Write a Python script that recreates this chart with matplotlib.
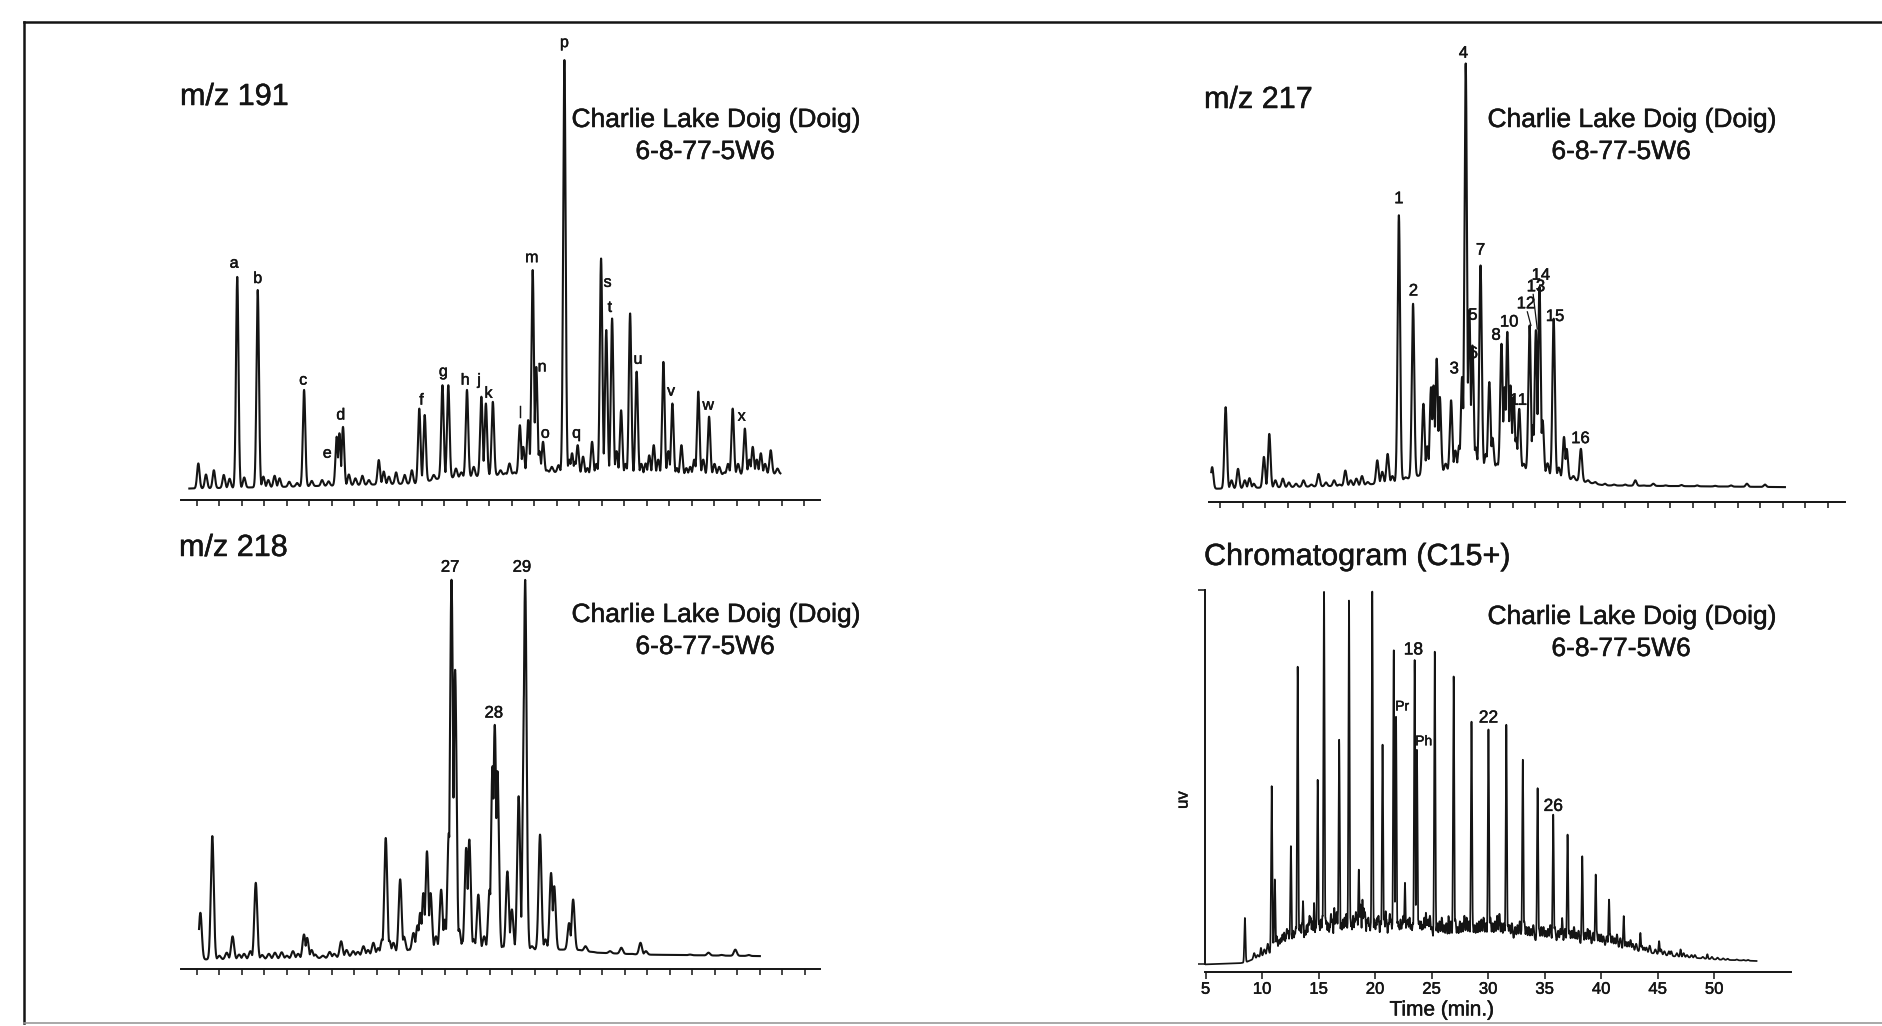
import numpy as np
import matplotlib
matplotlib.use("Agg")
import matplotlib.pyplot as plt
import matplotlib.patheffects as pe
from matplotlib.lines import Line2D

plt.rcParams['font.family'] = ['Liberation Sans', 'DejaVu Sans']

W, H = 1882, 1026   # output size in pixels
INK = '#141414'
BOLDEN = [pe.withStroke(linewidth=0.35, foreground=INK)]   # scanned print looks a bit heavier

# ---------------- data ----------------
# m/z 191 : (retention, apex height) ; retention in tick units, height in % of peak p
peaks_191 = [(0.06, 5.1), (0.40, 2.5), (0.75, 3.5), (1.19, 2.4), (1.45, 1.5), (1.79, 49.0),
             (2.10, 1.8), (2.70, 45.9), (2.95, 2.0), (3.17, 1.2), (3.45, 2.2), (3.67, 1.6),
             (4.10, 0.8), (4.45, 0.5), (4.76, 22.4), (5.10, 1.0), (5.56, 1.2), (5.85, 0.9),
             (6.21, 11.4), (6.33, 12.2), (6.49, 13.7), (6.75, 2.5), (7.04, 1.6), (7.35, 2.2),
             (7.64, 1.2), (8.08, 5.9), (8.30, 3.2), (8.53, 2.0), (8.85, 3.0), (9.23, 2.4),
             (9.55, 3.5), (9.88, 18.0), (10.12, 16.5), (10.52, 2.4), (10.91, 23.5), (11.17, 23.5),
             (11.51, 3.9), (11.75, 3.0), (12.00, 22.4), (12.30, 4.3), (12.64, 20.8), (12.84, 19.2),
             (13.15, 19.6), (13.49, 3.5), (13.70, 2.8), (13.89, 5.1), (14.10, 3.0), (14.35, 14.1),
             (14.50, 9.0), (14.72, 15.3), (14.92, 50.6), (15.08, 27.8), (15.22, 8.0), (15.38, 10.2),
             (15.55, 3.5), (15.77, 4.3), (16.07, 4.7), (16.33, 100.0), (16.55, 6.0), (16.67, 7.5),
             (16.80, 5.5), (16.92, 9.4), (17.16, 6.7), (17.35, 4.0), (17.56, 10.2), (17.75, 5.0),
             (17.96, 53.3), (18.19, 36.5), (18.45, 39.2), (18.65, 8.0), (18.85, 17.6), (19.05, 5.0),
             (19.25, 40.4), (19.54, 26.7), (19.75, 5.0), (19.94, 5.1), (20.10, 7.0), (20.30, 9.4),
             (20.50, 6.0), (20.73, 29.0), (20.95, 8.0), (21.13, 19.2), (21.33, 4.0), (21.53, 9.4),
             (21.75, 4.0), (21.92, 4.3), (22.10, 6.0), (22.28, 22.0), (22.50, 6.0), (22.76, 16.1),
             (23.00, 5.0), (23.21, 4.3), (23.45, 3.0), (23.60, 5.0), (23.81, 18.0), (24.05, 5.0),
             (24.35, 13.3), (24.55, 6.0), (24.70, 9.0), (24.88, 6.0), (25.06, 7.5), (25.25, 5.0),
             (25.50, 8.2), (25.80, 3.9)]
base_191 = [(-0.34, -0.8), (3.87, -0.4), (9.82, 0.4), (10.8, 1.6), (15.77, 3.1), (17.76, 2.4),
            (21.7, 2.4), (25.93, 2.7)]
labels_191 = [('a', 1.65, 52.2), ('b', 2.70, 48.6), ('c', 4.72, 24.7), ('d', 6.39, 16.5),
              ('e', 5.79, 7.5), ('f', 9.98, 20.0), ('g', 10.95, 26.7), ('h', 11.92, 24.7),
              ('j', 12.54, 24.7), ('k', 12.96, 21.6), ('l', 14.38, 16.9), ('m', 14.88, 53.5),
              ('n', 15.34, 27.8), ('o', 15.48, 12.2), ('p', 16.33, 104.1), ('q', 16.87, 12.2),
              ('s', 18.25, 47.7), ('t', 18.35, 41.8), ('u', 19.60, 29.6), ('v', 21.07, 22.1),
              ('w', 22.72, 18.8), ('x', 24.21, 16.2)]

# m/z 217 : height in % of peak 4
peaks_217 = [(-0.36, 5.1), (0.24, 19.2), (0.50, 2.0), (0.79, 4.7), (1.09, 2.0), (1.30, 2.5),
             (1.49, 1.2), (1.94, 7.5), (2.18, 12.9), (2.45, 2.0), (2.78, 2.4), (3.05, 1.5),
             (3.37, 1.2), (3.70, 2.0), (4.05, 1.0), (4.37, 3.5), (4.70, 1.5), (5.06, 2.0),
             (5.30, 1.0), (5.56, 4.3), (5.80, 2.0), (6.05, 2.4), (6.30, 3.0), (6.55, 1.6),
             (6.98, 6.7), (7.20, 4.0), (7.44, 8.2), (7.65, 3.0), (7.94, 64.3), (8.23, 2.7),
             (8.57, 43.5), (8.83, 2.0), (9.03, 20.0), (9.20, 10.0), (9.37, 23.9), (9.48, 24.3),
             (9.62, 30.6), (9.76, 21.6), (10.02, 5.9), (10.26, 20.8), (10.45, 9.0), (10.62, 10.2),
             (10.75, 26.3), (10.91, 100.0), (11.07, 42.0), (11.21, 33.7), (11.35, 9.8), (11.57, 52.5),
             (11.81, 8.2), (11.96, 25.1), (12.10, 12.0), (12.30, 5.9), (12.50, 34.1), (12.64, 23.9),
             (12.76, 36.9), (12.90, 24.3), (13.04, 21.6), (13.15, 12.0), (13.29, 18.8), (13.49, 5.9),
             (13.75, 38.4), (13.90, 15.0), (14.03, 37.3), (14.19, 47.5), (14.33, 16.1), (14.55, 6.0),
             (14.82, 40.0), (15.05, 5.0), (15.28, 12.2), (15.40, 9.4), (15.70, 3.0), (16.03, 9.4),
             (16.35, 2.0), (16.67, 1.6), (17.10, 1.2), (17.50, 1.0), (18.00, 1.0), (18.45, 2.0),
             (18.80, 0.8), (19.25, 1.2), (19.80, 0.8), (20.50, 0.9), (21.20, 0.8), (22.00, 0.7),
             (22.70, 0.8), (23.41, 1.2), (24.21, 1.0)]
base_217 = [(-0.4, 0.0), (6.15, 0.8), (7.74, 1.6), (9.13, 3.5), (11.1, 5.1), (13.1, 5.1),
            (15.08, 2.7), (17.06, 0.8), (25.1, 0.4)]
labels_217 = [('1', 7.94, 68.2), ('2', 8.59, 46.5), ('3', 10.40, 28.2), ('4', 10.81, 102.4),
              ('5', 11.23, 40.8), ('6', 11.25, 31.8), ('7', 11.57, 56.1), ('8', 12.26, 36.1),
              ('10', 12.84, 39.2), ('11', 13.25, 20.8), ('12', 13.59, 43.5), ('13', 14.03, 47.5),
              ('14', 14.25, 50.2), ('15', 14.88, 40.5), ('16', 16.01, 11.8)]
leaders_217 = [((13.65, 41.6), (13.81, 38.4)), ((13.91, 45.7), (14.09, 37.6))]

# m/z 218 : height in % of peaks 27 / 29
peaks_218 = [(0.16, 12.3), (0.69, 32.5), (1.00, 1.0), (1.33, 1.8), (1.59, 6.1), (1.88, 1.3),
             (2.10, 1.5), (2.38, 2.2), (2.62, 20.2), (2.90, 1.2), (3.20, 1.5), (3.47, 1.8),
             (3.77, 1.9), (4.00, 1.0), (4.27, 2.2), (4.50, 1.5), (4.76, 6.6), (4.90, 5.7),
             (5.10, 2.5), (5.26, 1.3), (5.60, 1.0), (5.90, 2.0), (6.10, 1.5), (6.41, 4.8),
             (6.65, 2.5), (6.94, 2.2), (7.15, 2.0), (7.40, 3.5), (7.60, 2.5), (7.84, 4.4),
             (8.05, 3.0), (8.23, 5.3), (8.39, 32.0), (8.55, 5.0), (8.73, 4.4), (9.03, 21.1),
             (9.20, 6.0), (9.42, 2.6), (9.62, 7.0), (9.80, 9.0), (9.92, 12.3), (10.06, 17.5),
             (10.22, 28.5), (10.38, 17.5), (10.62, 6.1), (10.85, 18.4), (11.01, 10.5), (11.19, 33.3),
             (11.31, 100.0), (11.47, 76.3), (11.65, 8.0), (11.81, 4.8), (11.96, 29.4), (12.10, 31.6),
             (12.30, 5.3), (12.50, 17.1), (12.76, 6.1), (13.00, 18.4), (13.13, 50.9), (13.23, 61.8),
             (13.35, 49.6), (13.59, 3.5), (13.79, 23.2), (13.99, 13.2), (14.29, 43.0), (14.54, 71.9),
             (14.58, 100.0), (14.88, 3.5), (15.24, 32.9), (15.48, 5.3), (15.73, 22.8), (15.87, 19.3),
             (16.27, 1.8), (16.53, 9.6), (16.71, 15.8), (17.00, 2.5), (17.26, 3.5), (17.60, 2.0),
             (18.00, 1.5), (18.35, 2.2), (18.85, 3.1), (19.30, 1.5), (19.70, 4.4), (19.94, 2.2),
             (20.50, 1.2), (21.20, 1.0), (21.90, 1.3), (22.72, 1.8), (23.30, 1.2), (23.91, 2.6),
             (24.50, 1.2)]
base_218 = [(0.1, 0.0), (5.85, 0.4), (7.84, 1.3), (9.82, 2.6), (16.77, 2.6), (17.76, 1.8),
            (19.75, 1.3), (25.0, 0.9)]
labels_218 = [('27', 11.25, 103.3), ('28', 13.19, 64.9), ('29', 14.44, 103.3)]

# C15+ chromatogram : time (min), height in % of y axis
peaks_c15 = [(8.48, 12.4), (9.90, 4.4), (10.85, 47.6), (11.13, 22.7), (12.55, 31.6), (13.15, 79.6),
             (13.62, 16.9), (14.60, 16.4), (14.92, 49.3), (15.48, 99.6), (16.39, 15.1), (16.82, 60.0),
             (17.69, 97.3), (18.56, 25.3), (18.88, 17.3), (19.75, 99.6), (20.66, 58.7), (20.94, 14.2),
             (21.65, 84.0), (21.85, 66.2), (22.64, 21.8), (23.50, 81.3), (23.70, 57.3), (24.50, 13.8),
             (25.28, 83.6), (26.50, 12.9), (26.95, 76.9), (28.53, 64.9), (30.03, 62.8), (31.61, 64.0),
             (33.07, 54.7), (34.38, 47.1), (35.76, 40.0), (36.55, 12.4), (37.03, 34.7), (38.33, 28.9),
             (39.52, 24.0), (40.70, 17.3), (42.00, 12.9), (43.47, 8.4), (45.13, 6.2), (47.03, 4.0),
             (49.40, 2.7), (51.97, 0.9)]
# unresolved hump: many small peaks
minor_c15 = [(9.3, 3.0), (9.6, 2.5), (10.2, 4.0), (10.5, 5.5), (11.0, 6.0), (11.3, 7.5), (11.5, 6.5),
             (11.65, 7.0), (11.8, 8.0), (11.95, 8.5), (12.1, 7.0), (12.2, 9.5), (12.3, 9.0),
             (12.45, 8.0), (12.75, 9.0), (12.9, 8.5), (13.0, 10.0), (13.3, 9.5), (13.4, 10.5),
             (13.55, 11.0), (13.8, 9.0), (13.95, 10.5), (14.1, 11.0), (14.2, 13.0), (14.3, 12.5),
             (14.45, 11.5), (14.75, 10.0), (14.85, 12.5), (15.05, 11.0), (15.2, 12.0), (15.35, 13.0),
             (15.6, 12.5), (15.7, 11.5), (15.85, 11.0), (16.0, 10.0), (16.1, 13.5), (16.2, 12.0),
             (16.5, 12.0), (16.6, 14.0), (16.75, 14.5), (17.0, 11.0), (17.15, 12.0), (17.3, 12.5),
             (17.45, 13.5), (17.6, 11.5), (17.8, 12.5), (17.9, 10.5), (18.05, 13.0), (18.2, 12.0),
             (18.3, 14.0), (18.4, 13.0), (18.7, 16.0), (19.0, 15.0), (19.1, 14.0), (19.3, 12.0),
             (19.4, 12.5), (19.5, 10.5), (19.65, 11.5), (19.95, 12.0), (20.1, 11.0), (20.2, 12.5),
             (20.3, 13.0), (20.5, 11.5), (20.7, 13.5), (20.8, 12.5), (21.0, 12.0), (21.2, 11.0),
             (21.3, 13.5), (21.4, 12.0), (21.55, 11.0), (22.0, 11.5), (22.1, 10.5), (22.25, 12.0),
             (22.4, 11.0), (22.5, 13.0), (22.8, 11.5), (22.9, 12.0), (23.05, 12.5), (23.2, 10.5),
             (23.35, 11.0), (23.8, 12.0), (23.9, 11.5), (24.05, 11.5), (24.2, 10.5), (24.35, 12.5),
             (24.6, 11.0), (24.7, 12.0), (24.85, 13.0), (25.0, 10.0), (25.5, 11.0), (25.7, 11.5),
             (25.9, 12.5), (26.1, 10.5), (26.3, 11.0), (26.7, 11.5), (27.1, 12.0), (27.3, 10.0),
             (27.5, 11.5), (27.7, 11.0), (27.9, 13.0), (28.1, 12.5), (28.3, 11.5), (28.6, 12.0),
             (28.8, 10.5), (29.0, 11.0), (29.2, 11.5), (29.4, 12.0), (29.6, 12.5), (29.8, 11.0),
             (30.2, 12.5), (30.4, 11.0), (30.6, 11.5), (30.8, 13.0), (31.0, 13.5), (31.2, 11.0),
             (31.4, 11.0), (31.75, 10.5), (31.9, 10.5), (32.1, 11.0), (32.4, 10.0), (32.6, 10.5),
             (32.8, 11.5), (33.0, 10.0), (33.2, 11.5), (33.4, 10.0), (33.6, 10.0), (33.8, 9.5),
             (34.0, 10.5), (34.5, 9.5), (34.7, 10.0), (34.9, 10.0), (35.1, 9.0), (35.3, 9.5),
             (35.5, 10.5), (35.9, 10.0), (36.2, 9.0), (36.4, 9.5), (36.8, 9.5), (37.2, 9.0),
             (37.4, 9.0), (37.6, 10.0), (37.8, 8.5), (38.0, 9.0), (38.4, 8.5), (38.6, 8.5),
             (38.8, 9.5), (39.0, 9.0), (39.3, 8.5), (39.6, 9.0), (39.8, 8.0), (40.0, 8.0),
             (40.2, 7.5), (40.5, 7.5), (40.8, 8.0), (41.0, 7.5), (41.2, 7.0), (41.4, 8.0),
             (41.7, 7.0), (42.2, 6.0), (42.4, 6.0), (42.6, 6.5), (42.8, 5.5), (43.1, 5.5),
             (43.6, 5.0), (43.8, 4.5), (44.0, 4.5), (44.3, 5.0), (44.8, 4.0), (45.3, 4.0),
             (45.6, 3.5), (46.0, 3.5), (46.2, 3.5), (46.7, 3.0), (47.3, 3.0), (47.6, 2.5),
             (48.0, 2.5), (48.3, 2.5), (49.0, 2.0), (49.8, 2.0), (50.3, 1.8), (50.8, 1.6),
             (51.2, 1.5), (52.0, 1.3), (52.6, 1.2), (53.0, 1.2)]
base_c15 = [(5.0, 0.0), (8.0, 0.3), (8.5, 0.5), (9.9, 2.2), (12.6, 4.9), (15.4, 6.2), (19.75, 6.5),
            (24.5, 7.0), (30.4, 7.0), (36.4, 6.0), (40.3, 4.9), (42.3, 4.0), (46.2, 2.2),
            (50.2, 1.3), (53.75, 0.9)]
labels_c15 = [('18', 23.39, 84.0, 12.5), ('Pr', 22.40, 68.9, 10), ('Ph', 24.30, 59.6, 10),
              ('22', 30.03, 65.8, 12.5), ('26', 35.76, 42.2, 12.5)]
time_ticks = [5, 10, 15, 20, 25, 30, 35, 40, 45, 50]

sample_name = "Charlie Lake Doig (Doig)"
well_id = "6-8-77-5W6"


def trace(grid, peaks, base, w):
    # baseline through the read points plus each peak drawn as a narrow spike
    pk = np.array(peaks)
    bs = np.array(base)
    b = np.interp(grid, bs[:, 0], bs[:, 1])
    amp = pk[:, 1] - np.interp(pk[:, 0], bs[:, 0], bs[:, 1])
    spikes = amp[:, None] * np.exp(-0.5 * ((grid[None, :] - pk[:, 0, None]) / w) ** 2)
    return b + np.clip(spikes.max(axis=0), 0, None)


def add_panel(left, right, top, bottom):
    return fig.add_axes([left / W, 1 - bottom / H, (right - left) / W, (bottom - top) / H])


def fig_text(x, y, s, **kw):
    fig.text(x / W, 1 - y / H, s, color=INK, path_effects=BOLDEN, **kw)


def peak_labels(ax, labels, size):
    for s, x, y in labels:
        ax.text(x, y, s, ha='center', va='center', fontsize=size, color=INK,
                clip_on=False, path_effects=BOLDEN)


def mz_axes(ax, xlim, ylim):
    ax.set_xlim(*xlim)
    ax.set_ylim(*ylim)
    for side in ['top', 'left', 'right']:
        ax.spines[side].set_visible(False)
    ax.spines['bottom'].set_linewidth(1.4)
    ax.spines['bottom'].set_color(INK)
    ax.set_xticks(range(28))
    ax.set_xticklabels([])
    ax.set_yticks([])
    ax.tick_params(axis='x', direction='out', length=4, width=1.1, color=INK)
    ax.patch.set_alpha(0)


fig = plt.figure(figsize=(W / 100, H / 100), dpi=100)

# ---- m/z 191 ----
ax1 = add_panel(181, 820, 40, 500)
mz_axes(ax1, (-0.71, 27.69), (-3.5, 104.7))
g = np.linspace(-0.34, 25.93, 6000)
ax1.plot(g, trace(g, peaks_191, base_191, 0.055), color=INK, lw=1.5)
peak_labels(ax1, labels_191, 11.5)

# ---- m/z 217 ----
ax2 = add_panel(1209, 1845, 40, 502)
mz_axes(ax2, (-0.5, 27.77), (-3.1, 105.5))
g = np.linspace(-0.4, 25.1, 6000)
ax2.plot(g, trace(g, peaks_217, base_217, 0.055), color=INK, lw=1.5)
peak_labels(ax2, labels_217, 12)
for (x0, y0), (x1, y1) in leaders_217:
    ax2.plot([x0, x1], [y0, y1], color=INK, lw=0.9)

# ---- m/z 218 ----
ax3 = add_panel(181, 820, 560, 969)
mz_axes(ax3, (-0.70, 27.67), (-2.5, 105.2))
g = np.linspace(0.1, 25.0, 6000)
ax3.plot(g, trace(g, peaks_218, base_218, 0.065), color=INK, lw=1.5)
peak_labels(ax3, labels_218, 12)

# ---- C15+ chromatogram ----
ax4 = add_panel(1205, 1791, 590, 972)
ax4.set_xlim(4.95, 56.8)
ax4.set_ylim(-2.04, 100)
g = np.linspace(5.0, 53.75, 9000)
y_main = trace(g, peaks_c15, base_c15, 0.05)
y_minor = trace(g, minor_c15, base_c15, 0.07)
ax4.plot(g, np.maximum(y_main, y_minor), color=INK, lw=1.25)
for s, x, y, fs in labels_c15:
    ax4.text(x, y, s, ha='center', va='center', fontsize=fs, color=INK, clip_on=False,
             path_effects=BOLDEN)
ax4.spines['top'].set_visible(False)
ax4.spines['right'].set_visible(False)
ax4.spines['left'].set_bounds(0, 100)
for side in ['left', 'bottom']:
    ax4.spines[side].set_linewidth(1.4)
    ax4.spines[side].set_color(INK)
ax4.set_yticks([0, 100])
ax4.set_yticklabels([])
ax4.set_xticks(time_ticks)
ax4.tick_params(axis='both', direction='out', length=5, width=1.1, color=INK,
                labelsize=12, labelcolor=INK, pad=2)
for lab in ax4.get_xticklabels():
    lab.set_path_effects(BOLDEN)
ax4.patch.set_alpha(0)

# ---- titles and sample names ----
fig_text(180, 97, "m/z 191", fontsize=22, va='center', ha='left')
fig_text(1204, 100, "m/z 217", fontsize=22, va='center', ha='left')
fig_text(179, 548, "m/z 218", fontsize=22, va='center', ha='left')
fig_text(1204, 557, "Chromatogram (C15+)", fontsize=22, va='center', ha='left')

for cx, cy in [(716, 120), (1632, 120), (716, 615), (1632, 617)]:
    fig_text(cx, cy, sample_name, fontsize=19, ha='center', va='center')
    fig_text(cx - 11, cy + 32, well_id, fontsize=19, ha='center', va='center')

fig_text(1442, 1010, "Time (min.)", fontsize=15, ha='center', va='center')
fig_text(1183, 800, "uv", fontsize=12, ha='center', va='center', rotation=90)

# ---- page frame ----
fig.add_artist(Line2D([24 / W, 24 / W], [1 - 22 / H, 1 - 1023 / H], color=INK, lw=1.8))
fig.add_artist(Line2D([24 / W, 1.0], [1 - 22 / H, 1 - 22 / H], color=INK, lw=1.8))
fig.add_artist(Line2D([24 / W, 1.0], [1 - 1023 / H, 1 - 1023 / H], color='#9a9a9a', lw=1.2))

fig.savefig("out.png", dpi=100, facecolor='white')
